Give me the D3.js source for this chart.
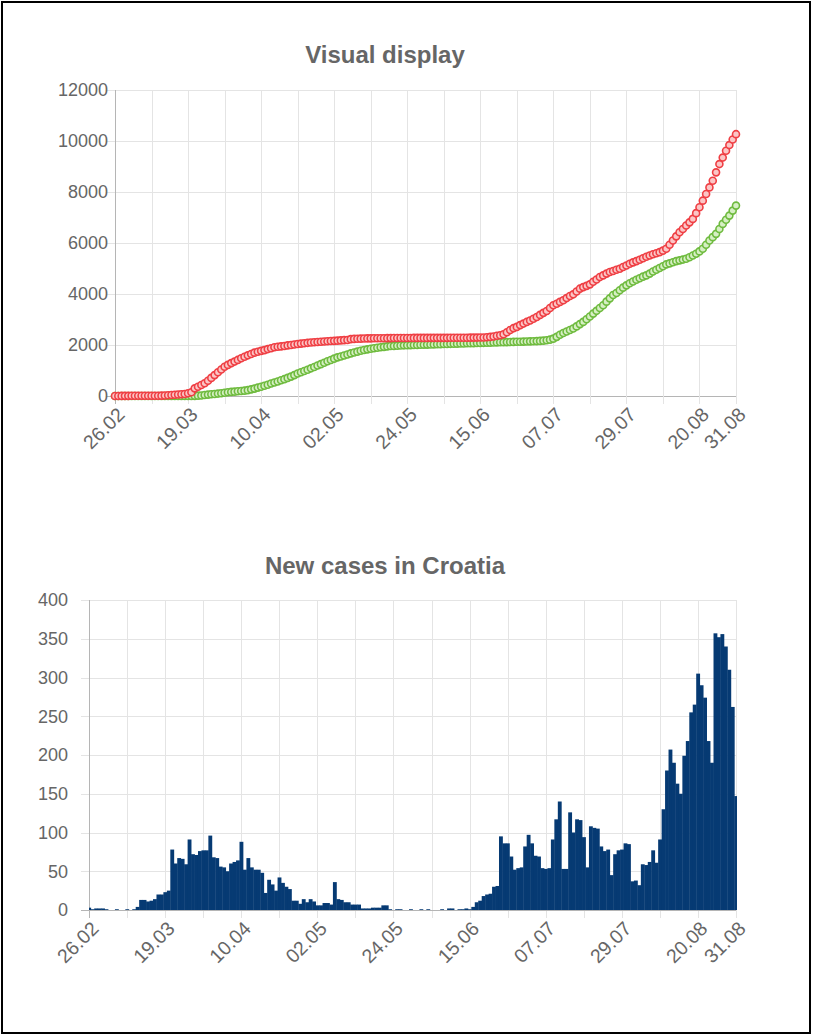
<!doctype html>
<html lang="hr">
<head>
	<meta charset="UTF-8">
	<title>Visual display</title>
	<style>
		body { margin: 0; background: #fff; }
		svg text { font-family: "Liberation Sans", Arial, sans-serif; fill: #666; }
		.chart__title { font-size: 24px; font-weight: bold; text-anchor: middle; }
		.chart__tick { font-size: 18px; }
		.chart__tick--x { font-size: 19.5px; }
		.grid { stroke: #e4e4e4; stroke-width: 1; shape-rendering: crispEdges; }
		.axis-line { stroke: #b5b5b5; stroke-width: 1; shape-rendering: crispEdges; }
	</style>
</head>
<body>
	<script src="https://cdn.jsdelivr.net/npm/d3@7"></script>
	<script>
		// first and last day on the axis (26.02 - 31.08)
		var startDay = '2020-02-26',
			endDay = '2020-08-31';

		// daily new cases, one per day
		var newCases = [
			3, 1, 2, 2, 2, 1, 0, 0, 1, 0,
			0, 1, 0, 1, 4, 13, 13, 11, 12, 14,
			20, 20, 23, 25, 78, 60, 67, 66, 59, 91,
			72, 71, 76, 77, 77, 96, 68, 67, 56, 55,
			50, 60, 62, 64, 88, 52, 67, 55, 52, 52,
			48, 22, 39, 33, 25, 42, 35, 30, 27, 12,
			12, 8, 14, 10, 14, 11, 6, 6, 9, 9,
			7, 36, 14, 13, 10, 10, 7, 7, 7, 2,
			2, 2, 3, 3, 3, 6, 6, 1, 0, 1,
			1, 0, 0, 1, 0, 0, 1, 0, 1, 0,
			0, 0, 1, 0, 2, 2, 0, 1, 1, 2,
			1, 4, 10, 12, 18, 20, 21, 30, 31, 95,
			86, 86, 69, 52, 54, 55, 82, 97, 86, 70,
			69, 54, 53, 54, 91, 117, 140, 53, 53, 126,
			100, 117, 116, 94, 55, 108, 106, 105, 82, 76,
			78, 45, 72, 77, 78, 86, 85, 37, 38, 32,
			59, 58, 62, 77, 61, 91, 130, 180, 207, 190,
			163, 150, 199, 218, 255, 265, 305, 290, 274, 218,
			190, 357, 352, 356, 340, 310, 262, 147
		];

		// total cases (red)
		var totalCases = [
			2, 2, 3, 5, 6, 7, 7, 8, 9, 9,
			10, 11, 11, 12, 14, 20, 30, 38, 48, 58,
			68, 80, 105, 150, 300, 360, 430, 500, 600, 710,
			820, 930, 1040, 1150, 1220, 1290, 1350, 1415, 1480, 1540,
			1595, 1650, 1700, 1735, 1770, 1800, 1840, 1875, 1910, 1930,
			1945, 1960, 1985, 2000, 2020, 2040, 2055, 2070, 2085, 2100,
			2110, 2120, 2130, 2140, 2148, 2155, 2162, 2170, 2180, 2190,
			2198, 2230, 2240, 2246, 2250, 2255, 2258, 2260, 2262, 2264,
			2265, 2266, 2268, 2270, 2272, 2275, 2276, 2276, 2277, 2277,
			2278, 2278, 2278, 2279, 2279, 2280, 2280, 2280, 2281, 2281,
			2281, 2282, 2282, 2283, 2285, 2287, 2287, 2288, 2290, 2291,
			2293, 2297, 2305, 2318, 2335, 2360, 2385, 2420, 2500, 2590,
			2660, 2710, 2780, 2840, 2905, 2960, 3030, 3100, 3180, 3260,
			3336, 3450, 3557, 3620, 3690, 3753, 3840, 3920, 3987, 4100,
			4209, 4270, 4320, 4378, 4480, 4570, 4665, 4730, 4800, 4860,
			4900, 4950, 4990, 5060, 5120, 5186, 5240, 5290, 5342, 5400,
			5460, 5512, 5560, 5600, 5642, 5700, 5772, 5930, 6098, 6260,
			6424, 6550, 6684, 6810, 6945, 7170, 7401, 7660, 7922, 8180,
			8443, 8770, 9095, 9350, 9616, 9840, 10060, 10268
		];

		// recovered (green)
		var recovered = [
			0, 0, 0, 0, 0, 0, 0, 0, 0, 0,
			0, 0, 0, 0, 0, 0, 0, 0, 0, 0,
			0, 0, 1, 2, 5, 14, 22, 40, 55, 70,
			80, 95, 110, 130, 145, 160, 170, 185, 195, 210,
			230, 260, 290, 330, 365, 400, 440, 490, 530, 570,
			615, 660, 710, 760, 820, 880, 930, 980, 1030, 1085,
			1140, 1195, 1250, 1305, 1360, 1410, 1465, 1515, 1550, 1590,
			1630, 1670, 1705, 1740, 1775, 1805, 1830, 1855, 1875, 1895,
			1912, 1928, 1945, 1958, 1965, 1972, 1980, 1987, 1992, 1996,
			2000, 2004, 2008, 2013, 2016, 2021, 2024, 2030, 2033, 2038,
			2041, 2046, 2050, 2053, 2058, 2061, 2066, 2070, 2073, 2078,
			2082, 2085, 2090, 2093, 2098, 2101, 2106, 2110, 2113, 2118,
			2121, 2126, 2130, 2133, 2138, 2143, 2148, 2153, 2160, 2170,
			2185, 2210, 2250, 2320, 2400, 2470, 2530, 2590, 2645, 2730,
			2820, 2906, 3010, 3120, 3231, 3340, 3450, 3557, 3700, 3830,
			3960, 4040, 4150, 4250, 4339, 4420, 4490, 4560, 4620, 4680,
			4730, 4800, 4880, 4951, 5020, 5090, 5160, 5200, 5245, 5290,
			5320, 5350, 5381, 5440, 5510, 5577, 5670, 5772, 5930, 6098,
			6230, 6359, 6550, 6750, 6910, 7075, 7270, 7466
		];

		var totalTicks = [0, 2000, 4000, 6000, 8000, 10000, 12000],
			newTicks = [0, 50, 100, 150, 200, 250, 300, 350, 400];

		var labelStep = 22,
			gridStep = 11;

		var parseDay = d3.timeParse('%Y-%m-%d'),
			formatDay = d3.timeFormat('%d.%m');

		var days = d3.timeDay.range(parseDay(startDay), d3.timeDay.offset(parseDay(endDay), 1))
			.map(function(d) { return formatDay(d); });

		var lastIdx = days.length - 1;

		var labelIdx = d3.range(0, lastIdx, labelStep).concat([lastIdx]),
			gridIdx = d3.range(0, lastIdx + 1, gridStep);

		var w = 813,
			h = 1036;

		var svg = d3.select('body')
			.append('svg')
			.attr('width', w)
			.attr('height', h);

		// frame round the screenshot
		svg.append('rect')
			.attr('x', 2)
			.attr('y', 2)
			.attr('width', w - 5)
			.attr('height', h - 5)
			.attr('fill', 'none')
			.attr('stroke', '#000')
			.attr('stroke-width', 2);


		/**
		* draw grid, axis lines and tick labels of one chart
		*/
		var drawFrame = function(g, box, x, y, yTicks, title, titleY, labelX) {
			g.append('text')
				.attr('class', 'chart__title')
				.attr('x', 385)
				.attr('y', titleY)
				.text(title);

			g.selectAll('.hgrid')
				.data(yTicks)
				.enter()
				.append('line')
				.attr('class', function(d) { return d === 0 ? 'axis-line' : 'grid'; })
				.attr('x1', box.left - 8)
				.attr('x2', box.right)
				.attr('y1', function(d) { return Math.round(y(d)) + 0.5; })
				.attr('y2', function(d) { return Math.round(y(d)) + 0.5; });

			g.selectAll('.vgrid')
				.data(gridIdx)
				.enter()
				.append('line')
				.attr('class', function(d) { return d === 0 ? 'axis-line' : 'grid'; })
				.attr('x1', function(d) { return Math.round(x(d)) + 0.5; })
				.attr('x2', function(d) { return Math.round(x(d)) + 0.5; })
				.attr('y1', box.top)
				.attr('y2', box.bottom + 8);

			g.selectAll('.ylabel')
				.data(yTicks)
				.enter()
				.append('text')
				.attr('class', 'chart__tick')
				.attr('text-anchor', 'end')
				.attr('x', labelX)
				.attr('y', function(d) { return y(d); })
				.attr('dy', '0.35em')
				.text(function(d) { return d; });

			g.selectAll('.xlabel')
				.data(labelIdx)
				.enter()
				.append('text')
				.attr('class', 'chart__tick chart__tick--x')
				.attr('text-anchor', 'end')
				.attr('transform', function(d) {
					return 'translate(' + (x(d) + 6) + ',' + (box.bottom + 15) + ') rotate(-45)';
				})
				.attr('dy', '0.35em')
				.text(function(d) { return days[d]; });
		};


		// ====== top chart: totals
		var topBox = { left: 115, right: 736, top: 90, bottom: 396 };

		var xTop = d3.scaleLinear()
			.domain([0, lastIdx])
			.range([topBox.left, topBox.right]);

		var yTop = d3.scaleLinear()
			.domain([0, 12000])
			.range([topBox.bottom, topBox.top]);

		var gTop = svg.append('g');
		drawFrame(gTop, topBox, xTop, yTop, totalTicks, 'Visual display', 63, 108);

		var drawDots = function(values, stroke, fill) {
			gTop.append('g')
				.selectAll('circle')
				.data(values)
				.enter()
				.append('circle')
				.attr('cx', function(d, i) { return xTop(i); })
				.attr('cy', function(d) { return yTop(d); })
				.attr('r', 3.5)
				.attr('fill', fill)
				.attr('stroke', stroke)
				.attr('stroke-width', 1.6);
		};

		drawDots(recovered, '#6fbb3f', '#d6efc4');
		drawDots(totalCases, '#ef3f44', '#fbc6c6');


		// ====== bottom chart: new cases
		var botBox = { left: 89, right: 736, top: 600, bottom: 910 };

		var xBot = d3.scaleLinear()
			.domain([0, lastIdx])
			.range([botBox.left, botBox.right]);

		var yBot = d3.scaleLinear()
			.domain([0, 400])
			.range([botBox.bottom, botBox.top]);

		var barW = xBot(1) - xBot(0);

		svg.append('clipPath')
			.attr('id', 'barClip')
			.append('rect')
			.attr('x', botBox.left)
			.attr('y', botBox.top)
			.attr('width', botBox.right - botBox.left + 1)
			.attr('height', botBox.bottom - botBox.top);

		var gBot = svg.append('g');
		drawFrame(gBot, botBox, xBot, yBot, newTicks, 'New cases in Croatia', 574, 68);

		gBot.append('g')
			.attr('clip-path', 'url(#barClip)')
			.selectAll('rect')
			.data(newCases)
			.enter()
			.append('rect')
			.attr('x', function(d, i) { return xBot(i) - barW / 2; })
			.attr('y', function(d) { return yBot(d); })
			.attr('width', barW + 0.4)
			.attr('height', function(d) { return yBot(0) - yBot(d); })
			.attr('fill', '#063a73');

		// redraw zero line above bars
		gBot.append('line')
			.attr('class', 'axis-line')
			.attr('x1', botBox.left - 8)
			.attr('x2', botBox.right)
			.attr('y1', Math.round(yBot(0)) + 0.5)
			.attr('y2', Math.round(yBot(0)) + 0.5);
	</script>
</body>
</html>
